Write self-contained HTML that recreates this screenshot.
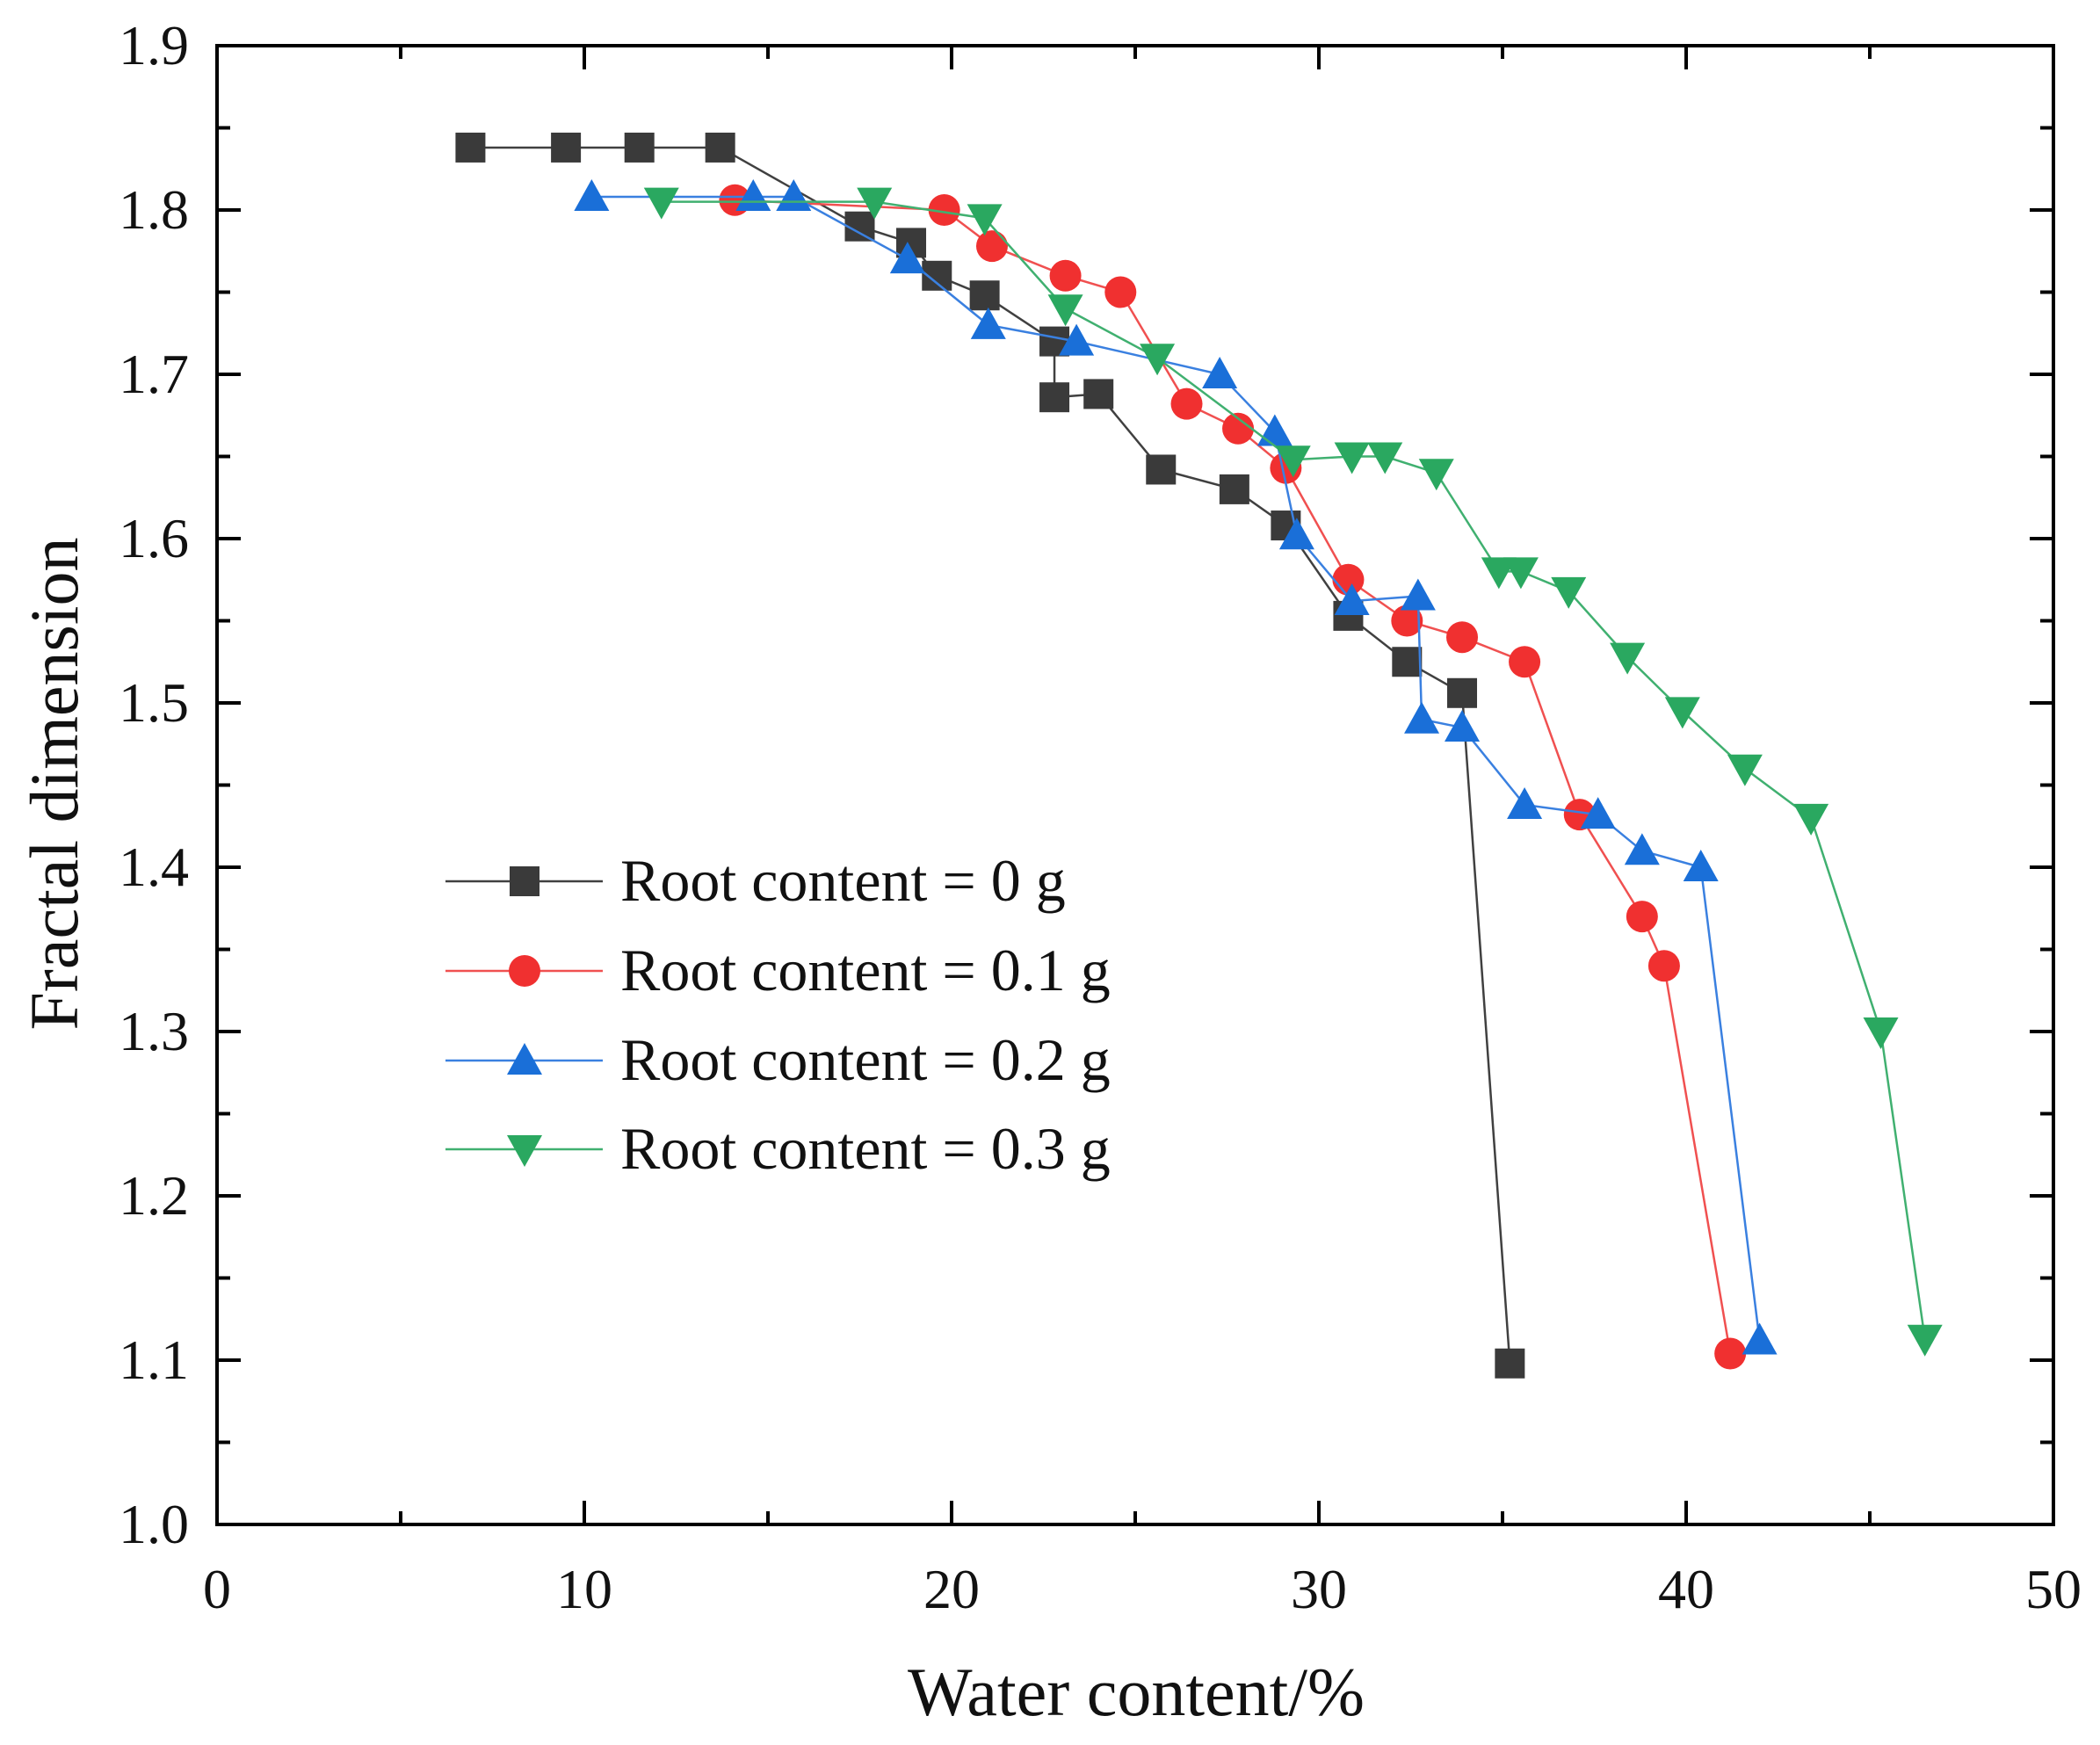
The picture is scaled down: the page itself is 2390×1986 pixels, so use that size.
<!DOCTYPE html>
<html><head><meta charset="utf-8"><style>
html,body{margin:0;padding:0;background:#fff;}
svg{display:block;font-family:"Liberation Serif",serif;}
</style></head><body>
<svg id="chart" width="2390" height="1986" viewBox="0 0 2390 1986"></svg>
<script>
const xTicks=[0,10,20,30,40,50];
const yTicks=[1.0,1.1,1.2,1.3,1.4,1.5,1.6,1.7,1.8,1.9];
const seriesNames=["Root content = 0 g","Root content = 0.1 g","Root content = 0.2 g","Root content = 0.3 g"];
const x0=[6.9,9.5,11.5,13.7,17.5,18.9,19.6,20.9,22.8,22.8,24.0,25.7,27.7,29.1,30.8,32.4,33.9,35.2];
const y0=[1.838,1.838,1.838,1.838,1.79,1.78,1.76,1.748,1.72,1.686,1.688,1.642,1.63,1.608,1.553,1.525,1.506,1.098];
const x1=[14.1,19.8,21.1,23.1,24.6,26.4,27.8,29.1,30.8,32.4,33.9,35.6,37.1,38.8,39.4,41.2];
const y1=[1.806,1.80,1.778,1.76,1.75,1.682,1.667,1.643,1.575,1.55,1.54,1.525,1.432,1.37,1.34,1.104];
const x2=[10.2,14.6,15.7,18.8,21.0,23.4,27.3,28.8,29.4,30.9,32.7,32.8,33.9,35.6,37.6,38.8,40.4,42.0];
const y2=[1.808,1.808,1.808,1.77,1.73,1.72,1.70,1.665,1.602,1.562,1.565,1.49,1.485,1.438,1.432,1.41,1.40,1.112];
const x3=[12.1,17.9,20.9,23.1,25.6,29.3,30.9,31.8,33.2,34.9,35.5,36.8,38.4,39.9,41.6,43.4,45.3,46.5];
const y3=[1.805,1.805,1.795,1.74,1.71,1.648,1.65,1.65,1.64,1.58,1.58,1.568,1.528,1.495,1.46,1.43,1.30,1.113];

const L=247,R=2337,T=52,B=1735;
const sx=v=>L+(v-0)/(50-0)*(R-L);
const sy=v=>B-(v-1.0)/(1.9-1.0)*(B-T);
const NS="http://www.w3.org/2000/svg";
const svg=document.getElementById('chart');
function mk(tag,attrs,parent){const e=document.createElementNS(NS,tag);for(const k in attrs)e.setAttribute(k,attrs[k]);(parent||svg).appendChild(e);return e;}
const colors=["#3a3a3a","#f03030","#1a6fd8","#2aa860"];
const lineColors=["#404040","#f05050","#3a80e0","#40b070"];
const shapes=["square","circle","up","down"];
function marker(g,shape,cx,cy,color){
  const s=17;let e;
  if(shape==="square")e=mk('rect',{x:cx-s,y:cy-s,width:2*s,height:2*s,fill:color},g);
  else if(shape==="circle")e=mk('circle',{cx:cx,cy:cy,r:s+1,fill:color},g);
  else if(shape==="up")e=mk('polygon',{points:`${cx},${cy-s-3} ${cx-s-3},${cy+s-1} ${cx+s+3},${cy+s-1}`,fill:color},g);
  else e=mk('polygon',{points:`${cx},${cy+s+3} ${cx-s-3},${cy-s+1} ${cx+s+3},${cy-s+1}`,fill:color},g);
  return e;
}
const frame=mk('rect',{x:L,y:T,width:R-L,height:B-T,fill:'none',stroke:'#000','stroke-width':4});


xTicks.forEach((v,i)=>{
  const x=sx(v);
  const t=mk('path',{d:`M${x},${B}v-27M${x},${T}v27`,stroke:'#000','stroke-width':4});
  
  
  if(i<xTicks.length-1){const xm=sx(v+5);const m=mk('path',{d:`M${xm},${B}v-15M${xm},${T}v15`,stroke:'#000','stroke-width':4});
    
    }
  const lb=mk('text',{x:x,y:1830,'font-size':64,'text-anchor':'middle',fill:'#111'});lb.textContent=v;
  
  
});
yTicks.forEach((v,i)=>{
  const y=sy(v);
  const t=mk('path',{d:`M${L},${y}h27M${R},${y}h-27`,stroke:'#000','stroke-width':4});
  
  
  if(i<yTicks.length-1){const ym=sy(v+0.05);const m=mk('path',{d:`M${L},${ym}h15M${R},${ym}h-15`,stroke:'#000','stroke-width':4});
    
    }
  const lb=mk('text',{x:215,y:y+21,'font-size':64,'text-anchor':'end',fill:'#111'});lb.textContent=v.toFixed(1);
  
  
});
const xt=mk('text',{x:1293,y:1952,'font-size':78,'text-anchor':'middle',fill:'#111'});xt.textContent="Water content/%";


const yt=mk('text',{x:0,y:0,'font-size':78,'text-anchor':'middle',fill:'#111',transform:'translate(88,892) rotate(-90)'});yt.textContent="Fractal dimension";


const xs=[x0,x1,x2,x3],ys=[y0,y1,y2,y3];
xs.forEach((xa,k)=>{
  const g=mk('g',{});
  
  
  const pts=xa.map((v,i)=>sx(v)+','+sy(ys[k][i])).join(' ');
  const pl=mk('polyline',{points:pts,fill:'none',stroke:lineColors[k],'stroke-width':2.5},g);
  
  
  xa.forEach((v,i)=>{const m=marker(g,shapes[k],sx(v),sy(ys[k][i]),colors[k]);
    
    });
});
const lg=mk('g',{});


[1003,1105,1207,1308].forEach((y,k)=>{
  const e=mk('g',{},lg);
  
  
  mk('line',{x1:507,x2:686,y1:y,y2:y,stroke:lineColors[k],'stroke-width':2.5},e);
  marker(e,shapes[k],597,y,colors[k]);
  const t=mk('text',{x:706,y:y+22,'font-size':68,fill:'#111'},e);t.textContent=seriesNames[k];
});
</script>
</body></html>
